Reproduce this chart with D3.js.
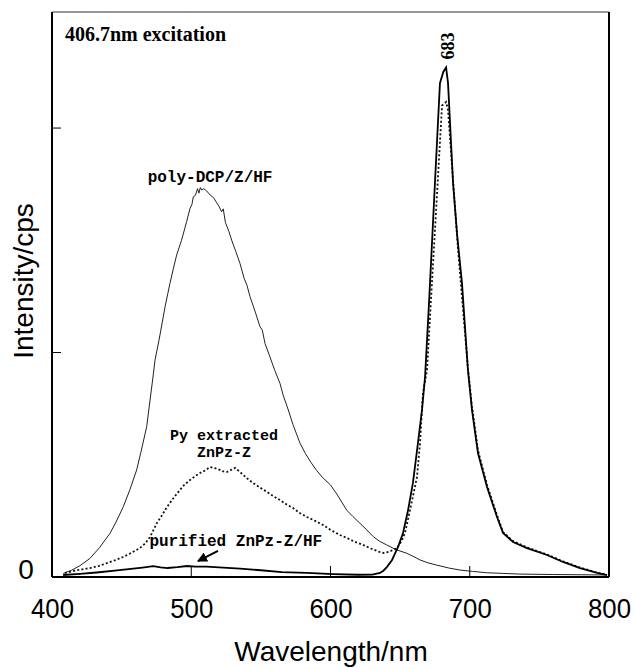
<!DOCTYPE html>
<html><head><meta charset="utf-8">
<script src="https://cdn.jsdelivr.net/npm/d3@7"></script>
<style>body{margin:0;background:#fff}</style>
</head><body>
<svg id="chart" width="634" height="669"></svg>
<script>
// ---- data ----
const polyWl = [408.1,414,420,427.3,434,441.7,446,451.2,456,460.8,464,468,472.7,474,477,481.2,484.7,487,489.5,493,496.7,499,500.5,501.5,503,504.5,505.5,506.5,507.5,509,511,513.5,516,518,520,521.8,523,524.5,527,529,532,535,538,540,542.2,546,549.4,551,553,556.5,560,563.7,566,569.7,573,578.1,582,586,590,594,600,605,611.6,616,621.2,626,630.7,635,640.3,647,654.7,660,664.3,670,676.3,685,692.9,702,712.2,724,736,760,780,798.4];
const polyVal = [0.016,0.03,0.05,0.083,0.13,0.195,0.245,0.313,0.39,0.477,0.56,0.67,0.9,0.967,1.06,1.204,1.308,1.37,1.434,1.5,1.583,1.64,1.66,1.694,1.7,1.73,1.71,1.735,1.724,1.73,1.72,1.702,1.69,1.67,1.65,1.627,1.64,1.58,1.54,1.501,1.45,1.397,1.33,1.3,1.249,1.18,1.115,1.1,1.04,0.981,0.92,0.863,0.81,0.744,0.68,0.596,0.55,0.51,0.475,0.445,0.41,0.365,0.298,0.27,0.239,0.21,0.18,0.16,0.143,0.122,0.106,0.09,0.076,0.063,0.053,0.04,0.031,0.025,0.019,0.016,0.013,0.011,0.01,0.009];

const pyWl = [409.3,418,427.3,434,439.5,445,451,457,463.2,467,470.4,475.4,479,482.6,487,491.9,495,499.1,503,506.3,510,513.5,517,520.6,523,525.7,528,531.4,535,540,544.3,549,554.4,559,563.7,568,573.1,578,583.1,589,594.6,600,606.8,611.8,617,623.3,629,635.5,638,642,647.8,651,653.5,657.1,662.1,664.3,666.4,669.3,680.1,683,684.4,691.6,698.7,701.6,705.9,712.4,719.6,723.9,731.1,741.1,755.5,767,779.2,791.4,798.6];
const pyVal = [0.018,0.03,0.04,0.05,0.062,0.074,0.089,0.108,0.129,0.15,0.178,0.241,0.275,0.312,0.35,0.388,0.41,0.432,0.45,0.463,0.475,0.49,0.485,0.477,0.47,0.468,0.475,0.486,0.468,0.44,0.419,0.4,0.379,0.36,0.343,0.325,0.307,0.285,0.267,0.25,0.232,0.21,0.187,0.174,0.158,0.143,0.127,0.111,0.107,0.112,0.129,0.16,0.196,0.298,0.445,0.597,0.82,0.922,2.1,2.116,2.08,1.457,0.93,0.76,0.565,0.41,0.275,0.2,0.16,0.132,0.1,0.07,0.042,0.02,0.01];

const pureWl = [408,420,432,445,455,465,472.7,478,483,490,497,503,511,520,535,550,565,583,602,620,630,635.5,638,640.6,644.2,648.5,652.1,655.7,659.2,662.8,665.7,667.9,671,675,678.6,681,683,684.4,688,691,694.4,698.7,701.6,705.9,712.4,719.6,723.9,731.1,741.1,755.5,767,779.2,791.4,798.6];
const pureVal = [0.009,0.014,0.02,0.028,0.035,0.042,0.048,0.043,0.04,0.044,0.049,0.046,0.046,0.043,0.037,0.03,0.022,0.018,0.013,0.01,0.011,0.018,0.028,0.045,0.076,0.134,0.196,0.298,0.419,0.597,0.744,0.891,1.25,1.755,2.2,2.25,2.27,2.2,1.755,1.52,1.31,0.922,0.744,0.552,0.401,0.267,0.196,0.156,0.129,0.098,0.067,0.04,0.018,0.008];

const xTicks = [400,500,600,700,800];
const yTicks = [0,1,2];
const yTickLabels = ["0","",""];

// ---- layout ----
const W = 634, H = 669;
const m = {left:52, right:25, top:12, bottom:92};
const svg = d3.select("#chart");
const x = d3.scaleLinear().domain([400,800]).range([m.left, W-m.right]);
const y = d3.scaleLinear().domain([0,2.517]).range([H-m.bottom, m.top]);

const line = d3.line().x(d=>x(d[0])).y(d=>y(d[1])).curve(d3.curveLinear);
const zip = (a,b)=>a.map((v,i)=>[v,b[i]]);

// curves
svg.append("path").datum(zip(polyWl,polyVal)).attr("d",line)
  .attr("fill","none").attr("stroke","#222").attr("stroke-width",1);
svg.append("path").datum(zip(pyWl,pyVal)).attr("d",line)
  .attr("fill","none").attr("stroke","#111").attr("stroke-width",1.8).attr("stroke-dasharray","2,2.2");
svg.append("path").datum(zip(pureWl,pureVal)).attr("d",line)
  .attr("fill","none").attr("stroke","#000").attr("stroke-width",1.8);

// frame
const fx0 = x(400), fx1 = x(800), fy0 = y(0), fy1 = y(2.517);
svg.append("line").attr("x1",fx0).attr("x2",fx1).attr("y1",fy1).attr("y2",fy1).attr("stroke","#333").attr("stroke-width",1.2);
svg.append("line").attr("x1",fx0).attr("x2",fx1).attr("y1",fy0).attr("y2",fy0).attr("stroke","#000").attr("stroke-width",2);
svg.append("line").attr("x1",fx0).attr("x2",fx0).attr("y1",fy0).attr("y2",fy1).attr("stroke","#000").attr("stroke-width",2);
svg.append("line").attr("x1",fx1).attr("x2",fx1).attr("y1",fy0).attr("y2",fy1).attr("stroke","#000").attr("stroke-width",2);

// x axis
const xAxis = d3.axisBottom(x).tickValues(xTicks).tickSize(0).tickPadding(0).tickFormat(d3.format("d"));
const gx = svg.append("g").attr("transform",`translate(0,${fy0})`).call(xAxis);
gx.select(".domain").remove();
gx.selectAll("text").attr("y",41).attr("dy",null)
  .attr("font-family","'Liberation Sans', Arial, sans-serif").attr("font-size",28).attr("fill","#000")
  .attr("transform","scale(0.92,1)");
// inner x ticks
svg.append("g").selectAll("line").data(xTicks.filter(t=>t>400&&t<800)).join("line")
  .attr("x1",d=>x(d)).attr("x2",d=>x(d)).attr("y1",fy0).attr("y2",fy0-11)
  .attr("stroke","#000").attr("stroke-width",1);

// y axis
const yAxis = d3.axisLeft(y).tickValues(yTicks).tickSize(0).tickPadding(0).tickFormat((d,i)=>yTickLabels[i]);
const gy = svg.append("g").attr("transform",`translate(${fx0},0)`).call(yAxis);
gy.select(".domain").remove();
gy.selectAll("text").attr("x",-26).attr("dy","0.32em").attr("text-anchor","middle")
  .attr("font-family","'Liberation Sans', Arial, sans-serif").attr("font-size",28).attr("fill","#000")
  .attr("transform","translate(0,-7)");
svg.append("g").selectAll("line").data(yTicks.filter(t=>t>0)).join("line")
  .attr("x1",fx0).attr("x2",fx0+9).attr("y1",d=>y(d)).attr("y2",d=>y(d))
  .attr("stroke","#000").attr("stroke-width",1);

// axis titles
svg.append("text").attr("x",331).attr("y",661).attr("text-anchor","middle")
  .attr("font-family","'Liberation Sans', Arial, sans-serif").attr("font-size",28).text("Wavelength/nm");
svg.append("text").attr("transform","translate(33,281) rotate(-90)").attr("text-anchor","middle")
  .attr("font-family","'Liberation Sans', Arial, sans-serif").attr("font-size",28).text("Intensity/cps");

// annotations
const mono = "'Liberation Mono', 'Courier New', monospace";
svg.append("text").attr("x",x(409.3)).attr("y",y(2.39))
  .attr("font-family","'Liberation Serif', 'Times New Roman', serif").attr("font-weight","bold").attr("font-size",20)
  .text("406.7nm excitation");
svg.append("text").attr("x",x(513.5)).attr("y",y(1.76)).attr("text-anchor","middle")
  .attr("font-family",mono).attr("font-weight","bold").attr("font-size",16).text("poly-DCP/Z/HF");
svg.append("text").attr("x",x(523.5)).attr("y",y(0.61)).attr("text-anchor","middle")
  .attr("font-family",mono).attr("font-weight","bold").attr("font-size",15).text("Py extracted");
svg.append("text").attr("x",x(523.5)).attr("y",y(0.535)).attr("text-anchor","middle")
  .attr("font-family",mono).attr("font-weight","bold").attr("font-size",15).text("ZnPz-Z");
svg.append("text").attr("x",x(532)).attr("y",y(0.138)).attr("text-anchor","middle")
  .attr("font-family",mono).attr("font-weight","bold").attr("font-size",16).text("purified ZnPz-Z/HF");
svg.append("text").attr("transform",`translate(${x(688.5)},${y(2.365)}) rotate(-90)`).attr("text-anchor","middle")
  .attr("font-family","'Liberation Serif', 'Times New Roman', serif").attr("font-weight","bold").attr("font-size",18).text("683");

// arrow
const defs = svg.append("defs");
defs.append("marker").attr("id","ah").attr("viewBox","0 0 10 10").attr("refX",9).attr("refY",5)
  .attr("markerWidth",5).attr("markerHeight",5).attr("orient","auto")
  .append("path").attr("d","M0,0 L10,5 L0,10 z").attr("fill","#000");
svg.append("line").attr("x1",x(519.2)).attr("y1",y(0.116)).attr("x2",x(504.8)).attr("y2",y(0.071))
  .attr("stroke","#000").attr("stroke-width",2).attr("marker-end","url(#ah)");
</script>
</body></html>
